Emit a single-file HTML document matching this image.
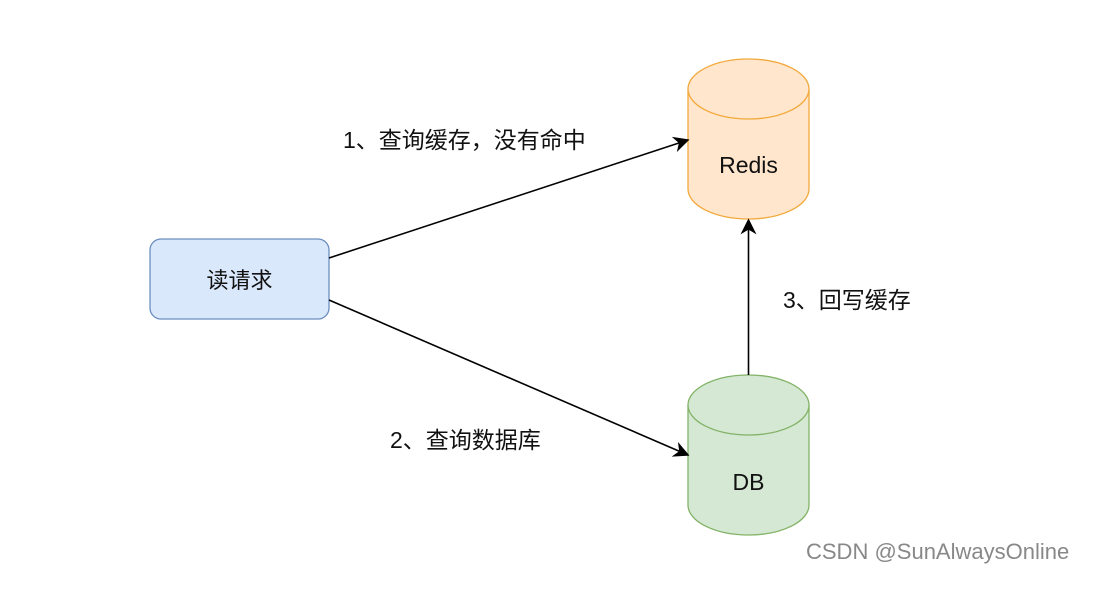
<!DOCTYPE html>
<html><head><meta charset="utf-8"><style>
html,body{margin:0;padding:0;background:#fff;}
svg text{font-family:"Liberation Sans","Noto Sans CJK SC",sans-serif;}
</style></head><body>
<svg width="1102" height="584" viewBox="0 0 1102 584" xmlns="http://www.w3.org/2000/svg">
<defs>
<marker id="ah" viewBox="0 0 10 10" refX="9" refY="5" markerWidth="16" markerHeight="16" markerUnits="userSpaceOnUse" orient="auto">
<path d="M0,0 L10,5 L0,10 L3,5 z" fill="#000"/></marker>
</defs>
<rect width="1102" height="584" fill="#fff"/>
<rect x="150" y="239" width="179" height="80" rx="11" fill="#dae8fc" stroke="#6c8ebf" stroke-width="1.3"/>
<text x="239.5" y="288" font-size="22" text-anchor="middle" fill="#111">读请求</text>
<path d="M688,89 L688,189 A60.5,30 0 0 0 809,189 L809,89" fill="#ffe6cc" stroke="#f2a93b" stroke-width="1.3"/>
<ellipse cx="748.5" cy="89" rx="60.5" ry="30" fill="#ffe6cc" stroke="#f2a93b" stroke-width="1.3"/>
<text x="748.5" y="173" font-size="23" text-anchor="middle" fill="#111">Redis</text>
<path d="M688,405 L688,505 A60.5,30 0 0 0 809,505 L809,405" fill="#d5e8d4" stroke="#82b366" stroke-width="1.3"/>
<ellipse cx="748.5" cy="405" rx="60.5" ry="30" fill="#d5e8d4" stroke="#82b366" stroke-width="1.3"/>
<text x="748.5" y="490" font-size="23" text-anchor="middle" fill="#111">DB</text>
<line x1="329" y1="258" x2="688" y2="140" stroke="#000" stroke-width="1.6" marker-end="url(#ah)"/>
<line x1="329" y1="300" x2="688" y2="455" stroke="#000" stroke-width="1.6" marker-end="url(#ah)"/>
<line x1="748.5" y1="375" x2="748.5" y2="220" stroke="#000" stroke-width="1.6" marker-end="url(#ah)"/>
<text x="343" y="148" font-size="23" fill="#111">1、查询缓存，没有命中</text>
<text x="390" y="448" font-size="23" fill="#111">2、查询数据库</text>
<text x="783" y="308" font-size="23" fill="#111">3、回写缓存</text>
<text x="806" y="559" font-size="22" fill="#888">CSDN @SunAlwaysOnline</text>
</svg>
</body></html>
